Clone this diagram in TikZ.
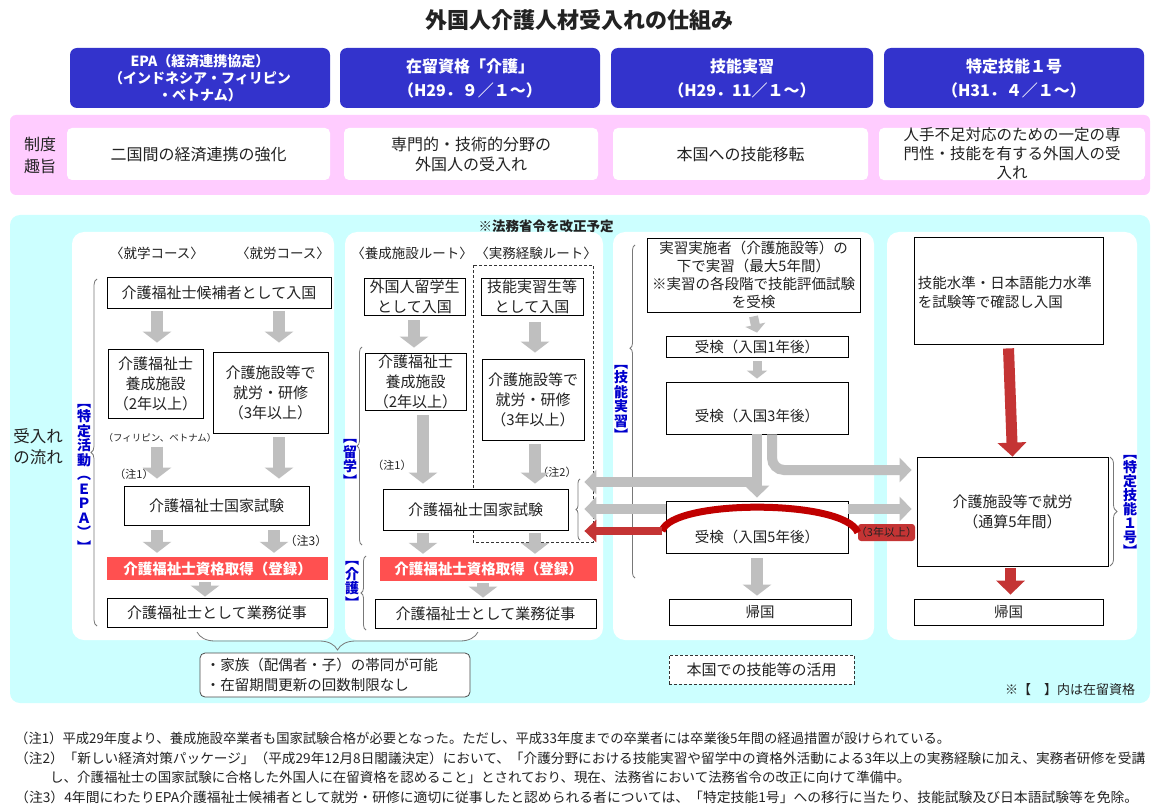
\documentclass[tikz,border=0pt]{standalone}
\usepackage{fontspec}
\usepackage{graphicx}
\setmainfont{Noto Sans CJK JP}
\usetikzlibrary{arrows.meta,decorations.pathreplacing,calc}
\definecolor{hdrblue}{RGB}{51,51,204}
\definecolor{pinkbg}{RGB}{255,204,255}
\definecolor{cyanbg}{RGB}{204,255,255}
\definecolor{garrow}{RGB}{191,191,191}
\definecolor{regred}{RGB}{255,80,80}
\definecolor{darkred}{RGB}{192,0,0}
\definecolor{arrred}{RGB}{196,52,52}
\definecolor{lblblue}{RGB}{0,0,204}
\definecolor{brgray}{RGB}{120,120,120}
\definecolor{txt}{RGB}{34,34,34}
\newcommand{\fsz}[2]{\fontsize{#1}{#2}\selectfont}
\begin{document}
\begin{tikzpicture}[x=1pt,y=-1pt,
  box/.style={draw=black, line width=0.8pt, fill=white, inner sep=0pt, align=center, font=\fsz{15}{20}, text=txt},
  hdr/.style={fill=hdrblue, rounded corners=7pt, text=white, font=\bfseries\fsz{16}{24}, align=center, inner sep=0pt},
  wbox/.style={fill=white, rounded corners=5pt, align=center, font=\fsz{16}{20}, inner sep=0pt, text=txt},
  regbox/.style={fill=regred, text=white, font=\bfseries\fsz{14.5}{18}, inner sep=0pt},
  lbl/.style={inner sep=0pt, text=txt},
  garr/.style={draw=garrow, line width=12pt, -{Triangle[length=11pt,width=28pt]}},
  garrs/.style={draw=garrow, line width=9pt, -{Triangle[length=8pt,width=20pt]}},
  garrh/.style={draw=garrow, line width=10pt, -{Triangle[length=12pt,width=24pt]}},
  rarr/.style={draw=arrred, line width=11pt, -{Triangle[length=14pt,width=28pt]}},
  rarrh/.style={draw=arrred, line width=8pt, -{Triangle[length=12pt,width=22pt]}},
  brc/.style={draw=brgray, line width=0.8pt, decorate, decoration={brace, amplitude=#1}},
  vlbl/.style={text=lblblue, font=\bfseries\fsz{14}{14.5}, align=center, inner sep=0pt}
]
\fill[white] (0,0) rectangle (1158,810);
\useasboundingbox (0,0) rectangle (1158,810);

% title
\node[lbl, font=\bfseries\fsz{22}{26}] (title) at (579,20) {外国人介護人材受入れの仕組み};

% header
\node[hdr, minimum width=260pt, minimum height=60pt, font=\bfseries\fsz{14}{17}] (h1) at (200,78) {EPA（経済連携協定）\\（インドネシア・フィリピン\\・ベトナム）};
\node[hdr, minimum width=260pt, minimum height=60pt] (h2) at (470,78) {在留資格「介護」\\（H29．９／１～）};
\node[hdr, minimum width=262pt, minimum height=60pt] (h3) at (742,78) {技能実習\\（H29．11／１～）};
\node[hdr, minimum width=260pt, minimum height=60pt] (h4) at (1014,78) {特定技能１号\\（H31．４／１～）};

% purpose band
\fill[pinkbg, rounded corners=6pt] (10,115) rectangle (1150,195);
\node[lbl, font=\fsz{16}{22}, align=center] (seido) at (40,155) {制度\\趣旨};
\node[wbox, minimum width=263pt, minimum height=52pt] (w1) at (198.5,154) {二国間の経済連携の強化};
\node[wbox, minimum width=254pt, minimum height=52pt] (w2) at (471,154) {専門的・技術的分野の\\外国人の受入れ};
\node[wbox, minimum width=255pt, minimum height=52pt] (w3) at (740.5,154) {本国への技能移転};
\node[wbox, minimum width=266pt, minimum height=52pt, font=\fsz{15.5}{19}] (w4) at (1012,154) {人手不足対応のための一定の専\\門性・技能を有する外国人の受\\入れ};

% flow area
\fill[cyanbg, rounded corners=10pt] (10,215) rectangle (1150,703);
\node[lbl, font=\bfseries\fsz{13.5}{16}] (kaisei) at (546,226) {※法務省令を改正予定};
\node[lbl, font=\fsz{16.5}{21}, align=center] (flow) at (38,447) {受入れ\\の流れ};
\fill[white, rounded corners=12pt] (72,232) rectangle (334,640);
\fill[white, rounded corners=12pt] (345,232) rectangle (603,640);
\fill[white, rounded corners=12pt] (613,232) rectangle (874,640);
\fill[white, rounded corners=12pt] (887,232) rectangle (1137,640);

% ---------- panel 1 : EPA ----------
\node[lbl, font=\fsz{13.5}{16}] (c1lbl) at (157,253) {〈就学コース〉};
\node[lbl, font=\fsz{13.5}{16}] (c2lbl) at (283,253) {〈就労コース〉};
\node[box, minimum width=224pt, minimum height=31pt] (a1) at (219,292.5) {介護福祉士候補者として入国};
\node[box, minimum width=95pt, minimum height=69pt] (a2) at (155.5,383.5) {介護福祉士\\養成施設\\（2年以上）};
\node[box, minimum width=115pt, minimum height=81pt] (a3) at (270.5,392.5) {介護施設等で\\就労・研修\\（3年以上）};
\node[lbl, font=\fsz{9.5}{11}] (phil) at (160,438) {（フィリピン、ベトナム）};
\node[lbl, font=\fsz{11}{13}] (n1a) at (134,474) {（注1）};
\node[box, minimum width=185pt, minimum height=39pt] (a4) at (216.5,505.5) {介護福祉士国家試験};
\node[lbl, font=\fsz{12}{14}] (n3a) at (306,541) {（注3）};
\node[regbox, minimum width=221pt, minimum height=23pt] (a5) at (217.5,568.5) {介護福祉士資格取得（登録）};
\node[box, minimum width=220pt, minimum height=29pt] (a6) at (217,612.5) {介護福祉士として業務従事};
\coordinate (xa) at (157,0);
\coordinate (xb) at (279,0);
\coordinate (xc) at (274,0);
\coordinate (xd) at (205,0);
\draw[garr] ($(a1.south -| xa)+(0,3)$) -- ($(a2.north -| xa)+(0,-6)$);
\draw[garr] ($(a1.south -| xb)+(0,3)$) -- ($(a3.north -| xb)+(0,-9)$);
\draw[garr] ($(phil.south -| xa)+(0,4)$) -- ($(a4.north -| xa)+(0,-7)$);
\draw[garr] ($(a3.south -| xb)+(0,4)$) -- ($(a4.north -| xb)+(0,-7)$);
\draw[garr] ($(a4.south -| xa)+(0,5)$) -- ($(a5.north -| xa)+(0,-4)$);
\draw[garr] ($(a4.south -| xc)+(0,5)$) -- ($(a5.north -| xc)+(0,-4)$);
\draw[garr] ($(a5.south -| xd)+(0,2)$) -- ($(a6.north -| xd)+(0,-1)$);
\draw[brc=6pt] (97,626) -- (97,279);
\node[vlbl] (lepa) at (84,478) {︻\\特\\定\\活\\動\\︵\\Ｅ\\Ｐ\\Ａ\\︶\\︼};

% ---------- panel 2 : 介護 ----------
\node[lbl, font=\fsz{13.5}{16}] (r1lbl) at (412,253) {〈養成施設ルート〉};
\node[lbl, font=\fsz{13.5}{16}] (r2lbl) at (536,253) {〈実務経験ルート〉};
\draw[dashed, dash pattern=on 3pt off 2pt, line width=0.8pt, draw=black!80] (473,265) rectangle (593,542);
\node[box, minimum width=101pt, minimum height=37pt] (b1) at (414.5,296.5) {外国人留学生\\として入国};
\node[box, minimum width=102pt, minimum height=37pt] (b2) at (532,296.5) {技能実習生等\\として入国};
\node[box, minimum width=101pt, minimum height=57pt] (b3) at (415.5,381.5) {介護福祉士\\養成施設\\（2年以上）};
\node[box, minimum width=102pt, minimum height=81pt] (b4) at (533,399.5) {介護施設等で\\就労・研修\\（3年以上）};
\node[lbl, font=\fsz{11}{13}] (n1b) at (392,465) {（注1）};
\node[lbl, font=\fsz{11}{13}] (n2b) at (557,472) {（注2）};
\node[box, minimum width=185pt, minimum height=41pt] (b5) at (475.5,509.5) {介護福祉士国家試験};
\node[regbox, minimum width=217pt, minimum height=24pt] (b6) at (488.5,569) {介護福祉士資格取得（登録）};
\node[box, minimum width=221pt, minimum height=29pt] (b7) at (485.5,613.5) {介護福祉士として業務従事};
\coordinate (xe) at (414,0);
\coordinate (xf) at (535,0);
\coordinate (xg) at (423,0);
\coordinate (xh) at (483,0);
\draw[garr] ($(b1.south -| xe)+(0,5)$) -- ($(b3.north -| xe)+(0,-5)$);
\draw[garr] ($(b2.south -| xf)+(0,7)$) -- ($(b4.north -| xf)+(0,-6)$);
\draw[garr] ($(b3.south -| xg)+(0,5)$) -- ($(b5.north -| xg)+(0,-5)$);
\draw[garr] ($(b4.south -| xf)+(0,4)$) -- ($(b5.north -| xf)+(0,-5)$);
\draw[garr] ($(b5.south -| xg)+(0,3)$) -- ($(b6.north -| xg)+(0,-3)$);
\draw[garr] ($(b5.south -| xf)+(0,3)$) -- ($(b6.north -| xf)+(0,-3)$);
\draw[garr] ($(b6.south -| xh)+(0,2)$) -- ($(b7.north -| xh)+(0,-1)$);
\draw[brc=5pt] (362,545) -- (362,347);
\draw[brc=5pt] (366,630) -- (366,556);
\draw[brc=4pt] (580,540) -- (580,479);
\node[vlbl] (lryu) at (350,463) {︻\\留\\学\\︼};
\node[vlbl] (lkai) at (352,585) {︻\\介\\護\\︼};

% bottom brace and note box
\draw[brc=18pt] (478,632) -- (197,632);
\node[draw=black!70, line width=0.8pt, fill=white, rounded corners=5pt, minimum width=270pt, minimum height=44pt, inner sep=0pt] (fam) at (335,675) {};
\node[lbl, anchor=west, align=left, font=\fsz{14.5}{20}] (famt) at ($(fam.west)+(6,0)$) {・家族（配偶者・子）の帯同が可能\\・在留期間更新の回数制限なし};

% ---------- panel 3 : 技能実習 ----------
\node[box, minimum width=213pt, minimum height=74pt, font=\fsz{14.5}{18}] (c1) at (753.5,275) {実習実施者（介護施設等）の\\下で実習（最大5年間）\\※実習の各段階で技能評価試験\\を受検};
\node[box, minimum width=182pt, minimum height=21pt, font=\fsz{14.5}{18}] (c2) at (757,346.5) {受検（入国1年後）};
\node[box, minimum width=182pt, minimum height=52pt] (c3) at (757,408) {};
\node[lbl, font=\fsz{14.5}{18}] (c3t) at (757,416) {受検（入国3年後）};
\node[box, minimum width=182pt, minimum height=52pt] (c4) at (757,527) {};
\node[lbl, font=\fsz{14.5}{18}] (c4t) at (757,537) {受検（入国5年後）};
\node[box, minimum width=182pt, minimum height=26pt, font=\fsz{14.5}{18}] (c5) at (760,612) {帰国};
\node[draw=black!80, dashed, dash pattern=on 3pt off 2pt, line width=0.8pt, fill=white, minimum width=185pt, minimum height=29pt, inner sep=0pt, font=\fsz{15}{18}, text=txt] (c6) at (761.5,669.5) {本国での技能等の活用};
\draw[garrs] ($(c1.south)+(0,4)$) -- ($(c2.north)+(0,-3)$);
\draw[garrs] ($(c2.south)+(0,4)$) -- ($(c3.north)+(0,-3)$);
\draw[garr] ($(c4.south)+(0,5)$) -- ($(c4.south |- c5.north)+(0,-3)$);
\draw[brc=5pt, decoration={aspect=0.69}] (635,578) -- (635,245);
\node[vlbl] (lgin) at (621,403) {︻\\技\\能\\実\\習\\︼};

% ---------- panel 4 : 特定技能 ----------
\node[box, minimum width=189pt, minimum height=107pt] (d1) at (1008.5,290.5) {};
\node[lbl, anchor=west, align=left, font=\fsz{14.5}{19}] (d1t) at ($(d1.west)+(4,2)$) {技能水準・日本語能力水準\\を試験等で確認し入国};
\node[box, minimum width=191pt, minimum height=109pt] (d2) at (1012.5,511.5) {介護施設等で就労\\（通算5年間）};
\node[box, minimum width=189pt, minimum height=26pt, font=\fsz{14.5}{18}] (d3) at (1008.5,612) {帰国};
\draw[rarr] ($(d1.south)+(0,4)$) -- (d2.north);
\draw[rarr] ($(d2.south)+(-2,2)$) -- ($(d2.south |- d3.north)+(-2,-4)$);
\draw[brc=7pt] (1110,457) -- (1110,566);
\node[vlbl, font=\bfseries\fsz{14}{14}] (ltok) at (1130,506) {︻\\特\\定\\技\\能\\１\\号\\︼};
\node[lbl, font=\fsz{13}{16}] (zairyu) at (1070,690) {※【　】内は在留資格};

% ---------- cross connections ----------
\coordinate (j1) at (757,482);
\coordinate (j2) at (772,470);
\coordinate (j3) at (757,509);
\coordinate (rj) at (662,531);
\draw[garrh] (c3.south) -- ($(c4.north)+(0,-3)$);
\draw[garrh] ($(c3.south |- j1)+(5,0)$) -- ($(b5.east |- j1)+(16,0)$);
\draw[garrh, rounded corners=12pt] ($(c3.south)+(15,0)$) -- (j2) -- ($(d2.west |- j2)+(-5,0)$);
\draw[garrh] (c4.west |- j3) -- ($(b5.east |- j3)+(16,0)$);
\draw[garrh] (c4.east |- j3) -- ($(d2.west |- j3)+(-5,0)$);
\node[fill=arrred, rounded corners=3pt, minimum width=57pt, minimum height=17pt, inner sep=0pt, font=\fsz{11}{13}, text=txt] (lbl3) at (886.5,532.5) {};
\draw[darkred, line width=7pt] (lbl3.west) .. controls (845,499) and (672,499) .. (rj);
\draw[rarrh] (rj) -- ($(b5.east |- rj)+(16,0)$);
\node[lbl, font=\fsz{11}{13}] (lbl3t) at (lbl3) {（3年以上）};

% ---------- notes ----------
\node[lbl, anchor=west, font=\fsz{13.5}{16}] (note1) at (15,738) {\resizebox{935pt}{\height}{（注1）平成29年度より、養成施設卒業者も国家試験合格が必要となった。ただし、平成33年度までの卒業者には卒業後5年間の経過措置が設けられている。}};
\node[lbl, anchor=west, font=\fsz{13.5}{16}] (note2) at (15,758) {\resizebox{1130pt}{\height}{（注2）「新しい経済対策パッケージ」（平成29年12月8日閣議決定）において、「介護分野における技能実習や留学中の資格外活動による3年以上の実務経験に加え、実務者研修を受講}};
\node[lbl, anchor=west, font=\fsz{13.5}{16}] (note3) at (50,777) {\resizebox{860pt}{\height}{し、介護福祉士の国家試験に合格した外国人に在留資格を認めること」とされており、現在、法務省において法務省令の改正に向けて準備中。}};
\node[lbl, anchor=west, font=\fsz{13.5}{16}] (note4) at (15,797) {\resizebox{1123pt}{\height}{（注3）4年間にわたりEPA介護福祉士候補者として就労・研修に適切に従事したと認められる者については、「特定技能1号」への移行に当たり、技能試験及び日本語試験等を免除。}};
\end{tikzpicture}
\end{document}
